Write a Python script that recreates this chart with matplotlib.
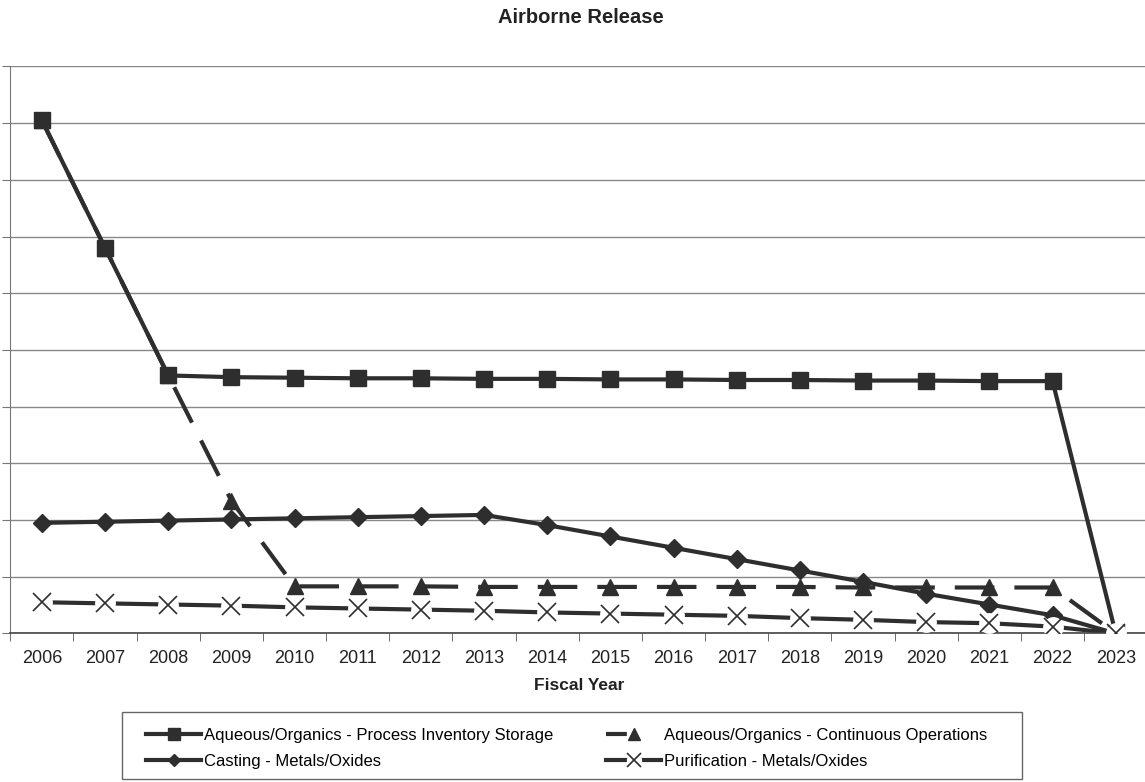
import numpy as np
import matplotlib.pyplot as plt
from matplotlib.lines import Line2D
from matplotlib.patches import Rectangle
from matplotlib.legend_handler import HandlerTuple

plt.rcParams['font.family'] = ['Liberation Sans', 'DejaVu Sans']

years = [str(y) for y in range(2006, 2024)]

process_storage = [9.05, 6.80, 4.55, 4.52, 4.51, 4.50, 4.50, 4.49, 4.49,
                   4.48, 4.48, 4.47, 4.47, 4.46, 4.46, 4.45, 4.45, 0.0]
continuous_ops = [9.05, 6.80, 4.55, 2.34, 0.83, 0.83, 0.83, 0.82, 0.82,
                  0.82, 0.82, 0.82, 0.82, 0.81, 0.81, 0.81, 0.81, 0.0]
casting = [1.95, 1.97, 1.99, 2.01, 2.03, 2.05, 2.07, 2.09, 1.91,
           1.71, 1.51, 1.31, 1.11, 0.91, 0.70, 0.51, 0.32, 0.0]
purification = [0.55, 0.53, 0.51, 0.49, 0.46, 0.44, 0.42, 0.40, 0.37,
                0.35, 0.33, 0.31, 0.27, 0.24, 0.20, 0.18, 0.12, 0.0]

dark = '#2e2e2e'
x = np.arange(len(years))

fig = plt.figure(figsize=(11.45, 7.82), dpi=100)
ax = fig.add_axes([0.009, 0.19, 0.993, 0.725])

# dashed series first so the solid squares line sits on top of it
ax.plot(x, continuous_ops, color=dark, lw=3, dashes=(9.5, 4.8),
        marker='^', ms=11, zorder=2)
ax.plot(x, process_storage, color=dark, lw=3, marker='s', ms=12, zorder=3)
ax.plot(x, casting, color=dark, lw=3, marker='D', ms=9, zorder=3)
ax.plot(x, purification, color=dark, lw=3, zorder=2)
ax.plot(x, purification, ls='none', marker='o', ms=15, mfc='white',
        mec='none', zorder=3)
ax.plot(x, purification, ls='none', marker='x', ms=13, mew=1.2,
        color=dark, zorder=4)

ax.set_xlim(-0.5, len(years) - 0.5)
ax.set_ylim(0, 10)
ax.set_xticks(x)
ax.set_xticklabels(years, fontsize=13, color='#222222')
ax.set_xticks(np.arange(-0.5, len(years)), minor=True)
ax.tick_params(axis='x', which='major', length=0, pad=12)
ax.tick_params(axis='x', which='minor', length=6, color='#555555')
ax.set_yticks(np.arange(0, 11))
ax.set_yticklabels([])
ax.tick_params(axis='y', length=6, color='#777777')
ax.yaxis.grid(True, color='#888888', lw=1)
ax.set_axisbelow(True)
for s in ['top', 'right']:
    ax.spines[s].set_visible(False)
ax.spines['left'].set_color('#777777')
ax.spines['bottom'].set_color('#444444')
ax.spines['bottom'].set_linewidth(1.2)

ax.set_xlabel('Fiscal Year', fontsize=12.5, fontweight='bold', labelpad=8,
              color='#222222')
fig.text(0.507, 0.978, 'Airborne Release', ha='center', va='center',
         fontsize=14.5, fontweight='bold', color='#222222')

# legend frame drawn separately so the entries can be placed freely
fig.patches.append(Rectangle((122 / 1145, 1 - 779 / 782), 900 / 1145,
                             67 / 782, transform=fig.transFigure,
                             fill=False, ec='#666666', lw=1))

h1 = Line2D([], [], color=dark, lw=3, marker='s', ms=8)
h2 = Line2D([], [], color=dark, lw=3, marker='^', ms=9, dashes=(5, 20))
h3 = Line2D([], [], color=dark, lw=3, marker='D', ms=6)
h4a = Line2D([], [], color=dark, lw=3)
h4b = Line2D([], [], ls='none', marker='o', ms=11, mfc='white', mec='none')
h4c = Line2D([], [], ls='none', marker='x', ms=10, mew=1.2, color=dark)

fig.legend([h1, h3, h2, (h4a, h4b, h4c)],
           ['Aqueous/Organics - Process Inventory Storage',
            'Casting - Metals/Oxides',
            'Aqueous/Organics - Continuous Operations',
            'Purification - Metals/Oxides'],
           handler_map={tuple: HandlerTuple(ndivide=1)},
           ncol=2, loc='upper left',
           bbox_to_anchor=(146 / 1145, 1 - 728 / 782),
           fontsize=12, frameon=False, handlelength=3.3, handletextpad=0.15,
           borderaxespad=0, borderpad=0, labelspacing=0.65,
           columnspacing=3.2)

fig.savefig('out.png', dpi=100)
